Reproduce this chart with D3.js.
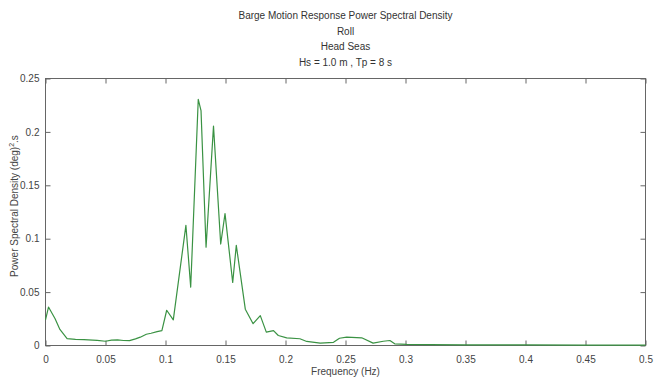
<!DOCTYPE html>
<html>
<head>
<meta charset="utf-8">
<script src="https://cdn.jsdelivr.net/npm/d3@7"></script>
<style>
  html, body { margin: 0; padding: 0; background: #fff; }
  svg { display: block; font-family: "Liberation Sans", Arial, sans-serif; }
</style>
</head>
<body>
<svg id="chart" width="654" height="381"></svg>
<script>
// roll PSD
const freq = [0, 0.0025, 0.008, 0.012, 0.018, 0.025, 0.032, 0.043, 0.05, 0.055, 0.06, 0.065, 0.07, 0.075, 0.079, 0.084,
  0.088, 0.093, 0.097, 0.101, 0.1065, 0.117, 0.121, 0.1273, 0.1296, 0.1338, 0.14, 0.146, 0.1496, 0.156, 0.159,
  0.1665, 0.173, 0.179, 0.184, 0.19, 0.194, 0.201, 0.212, 0.2177, 0.229, 0.24, 0.245, 0.251, 0.2635, 0.273,
  0.2815, 0.287, 0.291, 0.301, 0.32, 0.35, 0.4, 0.45, 0.5];
const psd = [0.024, 0.036, 0.025, 0.015, 0.0065, 0.0058, 0.0055, 0.0048, 0.004, 0.005, 0.0052, 0.0047, 0.0045, 0.0062, 0.0078, 0.0105,
  0.0115, 0.013, 0.014, 0.033, 0.024, 0.1125, 0.0547, 0.2305, 0.22, 0.092, 0.2054, 0.095, 0.1235, 0.059, 0.0938,
  0.034, 0.0204, 0.028, 0.0125, 0.014, 0.0094, 0.0072, 0.0063, 0.0038, 0.0022, 0.003, 0.0068, 0.0078, 0.0072, 0.0022,
  0.004, 0.0047, 0.0016, 0.001, 0.0008, 0.0006, 0.0005, 0.0004, 0.0003];
const xTicks = [0, 0.05, 0.1, 0.15, 0.2, 0.25, 0.3, 0.35, 0.4, 0.45, 0.5];
const yTicks = [0, 0.05, 0.1, 0.15, 0.2, 0.25];
const titleLines = ["Barge Motion Response Power Spectral Density", "Roll", "Head Seas", "Hs = 1.0 m , Tp = 8 s"];

const svg = d3.select("#chart");
const m = { left: 45.5, right: 645.5, top: 78.5, bottom: 345.5 };

const x = d3.scaleLinear().domain([0, 0.5]).range([m.left, m.right]);
const y = d3.scaleLinear().domain([0, 0.25]).range([m.bottom, m.top]);

const axisColor = "#666", textColor = "#444";

// box
svg.append("rect")
  .attr("x", m.left).attr("y", m.top)
  .attr("width", m.right - m.left).attr("height", m.bottom - m.top)
  .attr("fill", "none").attr("stroke", axisColor);

// ticks inside, MATLAB style
const styleAxis = g => {
  g.select(".domain").remove();
  g.selectAll(".tick line").attr("stroke", axisColor);
  g.selectAll(".tick text").attr("fill", textColor).attr("font-size", 10);
};

svg.append("g").attr("transform", `translate(0,${m.bottom})`)
  .call(d3.axisBottom(x).tickValues(xTicks).tickSize(-5).tickPadding(10).tickFormat(d3.format("")))
  .call(styleAxis);
svg.append("g").attr("transform", `translate(0,${m.top})`)
  .call(d3.axisTop(x).tickValues(xTicks).tickSize(-5).tickFormat(""))
  .call(styleAxis);
svg.append("g").attr("transform", `translate(${m.left},0)`)
  .call(d3.axisLeft(y).tickValues(yTicks).tickSize(-5).tickPadding(6).tickFormat(d3.format("")))
  .call(styleAxis);
svg.append("g").attr("transform", `translate(${m.right},0)`)
  .call(d3.axisRight(y).tickValues(yTicks).tickSize(-5).tickFormat(""))
  .call(styleAxis);

// line
const data = freq.map((f, i) => [f, psd[i]]);
svg.append("path")
  .datum(data)
  .attr("fill", "none")
  .attr("stroke", "#3a9243")
  .attr("stroke-width", 1.2)
  .attr("stroke-linejoin", "round")
  .attr("d", d3.line().x(d => x(d[0])).y(d => y(d[1])));

// title
const cx = (m.left + m.right) / 2;
svg.append("g").selectAll("text").data(titleLines).join("text")
  .attr("x", cx).attr("y", (d, i) => 19 + i * 15.5)
  .attr("text-anchor", "middle")
  .attr("font-size", 10)
  .attr("fill", "#333")
  .text(d => d);

// axis labels
svg.append("text")
  .attr("x", cx).attr("y", 375)
  .attr("text-anchor", "middle").attr("font-size", 10).attr("fill", textColor)
  .text("Frequency (Hz)");

const yl = svg.append("text")
  .attr("transform", `translate(18,${(m.top + m.bottom) / 2 - 6}) rotate(-90)`)
  .attr("text-anchor", "middle").attr("font-size", 10).attr("fill", textColor);
yl.append("tspan").text("Power Spectral Density (deg)");
yl.append("tspan").attr("font-size", 7).attr("dy", -4).text("2");
yl.append("tspan").attr("dy", 4).text(".s");
</script>
</body>
</html>
